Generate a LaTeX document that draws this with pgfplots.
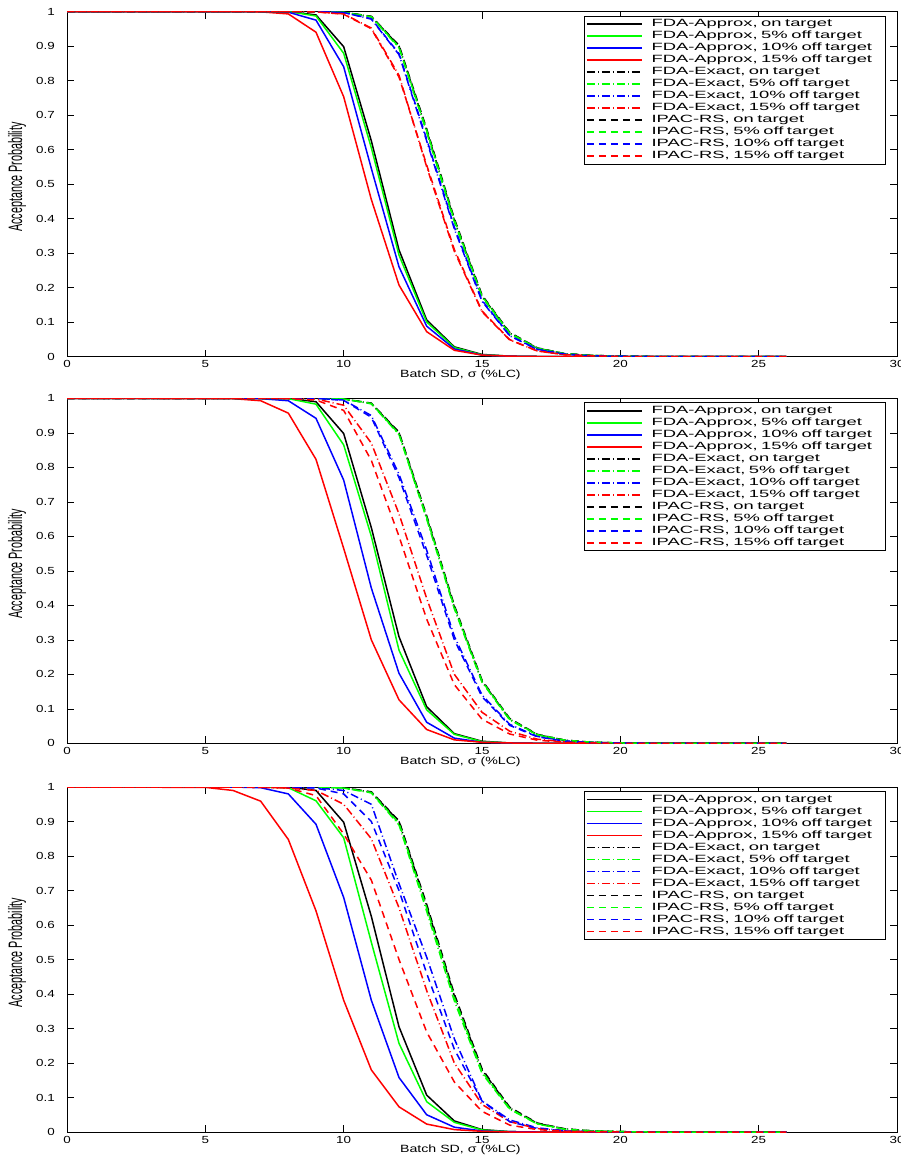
\documentclass[border=0pt]{standalone}
\usepackage{pgfplots}
\usepackage{pgfplotstable}
\pgfplotsset{compat=1.18}
\usepackage{fontspec}
\setmainfont{Liberation Sans}
\newfontfamily\legfont{Liberation Sans}[FakeStretch=1.75]
\newfontfamily\tickfont{Liberation Sans}[FakeStretch=1.3]
\newfontfamily\labfont{Liberation Sans}[FakeStretch=1.35]
\newfontfamily\ylabfont{Liberation Sans}[FakeStretch=0.556]
\definecolor{mgreen}{rgb}{0,1,0}
\definecolor{mblue}{rgb}{0,0,1}
\definecolor{mred}{rgb}{1,0,0}
\newcommand{\tl}[1]{\mbox{\tickfont\fontsize{10.3}{11}\selectfont #1}}

\pgfplotstableread{
x a0 a5 a10 a15 e0 e5 e10 e15 i0 i5 i10 i15
0 1 1 1 1 1 1 1 1 1 1 1 1
6 1 1 1 1 1 1 1 1 1 1 1 1
7 1 1 1 0.999 1 1 1 1 1 1 1 1
8 1 1 0.998 0.993 1 1 1 1 1 1 1 1
9 0.99 0.987 0.975 0.94 1 1 1 0.999 1 1 1 0.999
10 0.898 0.879 0.84 0.753 0.998 0.998 0.997 0.993 0.998 0.998 0.997 0.992
11 0.625 0.605 0.545 0.455 0.985 0.984 0.978 0.952 0.986 0.985 0.979 0.95
12 0.309 0.294 0.26 0.207 0.9 0.895 0.875 0.815 0.902 0.897 0.878 0.81
13 0.106 0.1 0.088 0.072 0.655 0.65 0.625 0.55 0.66 0.655 0.63 0.555
14 0.028 0.026 0.022 0.018 0.395 0.39 0.37 0.305 0.4 0.395 0.375 0.31
15 0.006 0.005 0.004 0.004 0.175 0.172 0.16 0.13 0.178 0.175 0.163 0.132
16 0.001 0.001 0.001 0.001 0.068 0.066 0.06 0.048 0.07 0.068 0.061 0.049
17 0 0 0 0 0.024 0.023 0.02 0.016 0.025 0.024 0.021 0.016
18 0 0 0 0 0.008 0.008 0.007 0.005 0.008 0.008 0.007 0.005
19 0 0 0 0 0.003 0.003 0.002 0.002 0.003 0.003 0.002 0.002
20 0 0 0 0 0.001 0.001 0.001 0 0.001 0.001 0.001 0
21 0 0 0 0 0 0 0 0 0 0 0 0
26 0 0 0 0 0 0 0 0 0 0 0 0
}\dataA

\pgfplotstableread{
x a0 a5 a10 a15 e0 e5 e10 e15 i0 i5 i10 i15
0 1 1 1 1 1 1 1 1 1 1 1 1
6 1 1 1 0.999 1 1 1 1 1 1 1 1
7 1 1 0.999 0.993 1 1 1 1 1 1 1 1
8 1 0.999 0.993 0.957 1 1 1 1 1 1 1 0.999
9 0.99 0.983 0.942 0.823 1 1 1 0.998 1 1 1 0.995
10 0.898 0.865 0.763 0.565 0.998 0.998 0.995 0.98 0.998 0.998 0.994 0.965
11 0.625 0.6 0.45 0.3 0.985 0.984 0.95 0.87 0.986 0.985 0.945 0.82
12 0.309 0.27 0.203 0.126 0.9 0.895 0.78 0.665 0.902 0.897 0.77 0.6
13 0.106 0.097 0.061 0.04 0.655 0.65 0.56 0.42 0.66 0.655 0.545 0.36
14 0.028 0.026 0.015 0.01 0.395 0.39 0.31 0.2 0.4 0.395 0.3 0.17
15 0.006 0.005 0.003 0.003 0.18 0.177 0.14 0.09 0.183 0.18 0.135 0.07
16 0.001 0.001 0.001 0.001 0.07 0.068 0.055 0.035 0.072 0.07 0.052 0.027
17 0 0 0 0 0.025 0.024 0.02 0.012 0.026 0.025 0.019 0.009
18 0 0 0 0 0.009 0.008 0.007 0.004 0.009 0.009 0.006 0.003
19 0 0 0 0 0.003 0.003 0.002 0.001 0.003 0.003 0.002 0.001
20 0 0 0 0 0.001 0.001 0.001 0 0.001 0.001 0.001 0
21 0 0 0 0 0 0 0 0 0 0 0 0
26 0 0 0 0 0 0 0 0 0 0 0 0
}\dataB

\pgfplotstableread{
x a0 a5 a10 a15 e0 e5 e10 e15 i0 i5 i10 i15
0 1 1 1 1 1 1 1 1 1 1 1 1
5 1 1 1 0.999 1 1 1 1 1 1 1 1
6 1 1 1 0.99 1 1 1 1 1 1 1 1
7 1 1 0.998 0.959 1 1 1 0.999 1 1 1 0.999
8 1 0.998 0.98 0.848 1 1 0.999 0.997 1 1 1 0.997
9 0.99 0.96 0.892 0.641 1 1 0.998 0.99 1 1 0.997 0.975
10 0.898 0.853 0.68 0.382 0.998 0.997 0.99 0.95 0.998 0.997 0.98 0.864
11 0.625 0.55 0.382 0.18 0.985 0.983 0.95 0.85 0.986 0.984 0.9 0.73
12 0.305 0.257 0.158 0.073 0.9 0.89 0.72 0.65 0.902 0.895 0.7 0.5
13 0.107 0.088 0.05 0.023 0.655 0.64 0.507 0.41 0.66 0.65 0.46 0.29
14 0.032 0.028 0.014 0.007 0.395 0.38 0.27 0.2 0.4 0.39 0.24 0.145
15 0.007 0.006 0.003 0.002 0.18 0.17 0.09 0.08 0.183 0.175 0.09 0.06
16 0.001 0.001 0.001 0 0.07 0.066 0.035 0.03 0.072 0.068 0.03 0.02
17 0 0 0 0 0.025 0.023 0.012 0.01 0.026 0.024 0.01 0.007
18 0 0 0 0 0.009 0.008 0.004 0.003 0.009 0.008 0.003 0.002
19 0 0 0 0 0.003 0.003 0.001 0.001 0.003 0.003 0.001 0.001
20 0 0 0 0 0.001 0.001 0 0 0.001 0.001 0 0
21 0 0 0 0 0 0 0 0 0 0 0 0
26 0 0 0 0 0 0 0 0 0 0 0 0
}\dataC

\pgfplotsset{
  legend image code/.code={\draw[#1] (9pt,0pt) -- (64pt,0pt);},
  sl/.style={solid, line width=1.5pt},
  dd/.style={line width=1.5pt, dash pattern=on 8pt off 3pt on 1pt off 3pt},
  ds/.style={line width=1.5pt, dash pattern=on 7pt off 5pt},
  panel/.style={
    scale only axis, width=830pt, height=345pt,
    xmin=0, xmax=30, ymin=0, ymax=1,
    /pgf/number format/assume math mode=true,
    xtick={0,5,10,15,20,25,30}, xticklabels={\tl{0},\tl{5},\tl{10},\tl{15},\tl{20},\tl{25},\tl{30}},
    ytick={0,0.1,0.2,0.3,0.4,0.5,0.6,0.7,0.8,0.9,1},
    yticklabels={\tl{0},\tl{0.1},\tl{0.2},\tl{0.3},\tl{0.4},\tl{0.5},\tl{0.6},\tl{0.7},\tl{0.8},\tl{0.9},\tl{1}},
    tick label style={inner sep=0pt},
    xticklabel shift=4pt, yticklabel shift=12pt,
    major tick length=7pt, tick style={black, line width=0.6pt},
    axis line style={black, line width=1pt},
    xlabel={Batch SD, σ (\%LC)},
    xlabel style={font=\labfont\fontsize{10.5}{12}\selectfont, at={(axis description cs:0.474,0)}, anchor=north, yshift=-13pt, inner sep=0pt},
    ylabel={Acceptance Probability},
    ylabel style={font=\ylabfont\fontsize{19.4}{20}\selectfont, at={(axis description cs:-0.0602,0.52)}, anchor=center, inner sep=0pt},
    legend cell align=left,
    legend style={at={(rel axis cs:0.9867,0.988)}, anchor=north east, draw=black, line width=0.8pt, fill=white, inner sep=2pt,
      font=\legfont\fontsize{10.5}{12}\selectfont, row sep=0pt,
      nodes={inner sep=0pt, text height=8.5pt, text depth=3.5pt, text width=232pt},
      /tikz/every odd column/.append style={column sep=9pt}},
  }
}

\newcommand{\allplots}[1]{%
  \addplot[black, sl] table[x=x,y=a0]{#1};
  \addplot[mgreen, sl] table[x=x,y=a5]{#1};
  \addplot[mblue, sl] table[x=x,y=a10]{#1};
  \addplot[mred, sl] table[x=x,y=a15]{#1};
  \addplot[black, dd] table[x=x,y=e0]{#1};
  \addplot[mgreen, dd] table[x=x,y=e5]{#1};
  \addplot[mblue, dd] table[x=x,y=e10]{#1};
  \addplot[mred, dd] table[x=x,y=e15]{#1};
  \addplot[black, ds] table[x=x,y=i0]{#1};
  \addplot[mgreen, ds] table[x=x,y=i5]{#1};
  \addplot[mblue, ds] table[x=x,y=i10]{#1};
  \addplot[mred, ds] table[x=x,y=i15]{#1};
  \legend{FDA-Approx\rlap{, on target},FDA-Approx\rlap{, 5\% off target},FDA-Approx\rlap{, 10\% off target},FDA-Approx\rlap{, 15\% off target},
    FDA-Exact\rlap{, on target},FDA-Exact\rlap{, 5\% off target},FDA-Exact\rlap{, 10\% off target},FDA-Exact\rlap{, 15\% off target},
    IPAC-RS\rlap{, on target},IPAC-RS\rlap{, 5\% off target},IPAC-RS\rlap{, 10\% off target},IPAC-RS\rlap{, 15\% off target}}
}

\begin{document}
\begin{tikzpicture}
\path[use as bounding box] (0pt,0pt) rectangle (901pt,-1160pt);
\begin{axis}[panel, at={(67pt,-356.5pt)}, anchor=south west]
\allplots{\dataA}
\end{axis}
\begin{axis}[panel, at={(67pt,-743.3pt)}, anchor=south west]
\allplots{\dataB}
\end{axis}
\begin{axis}[panel, at={(67pt,-1132pt)}, anchor=south west]
\allplots{\dataC}
\end{axis}
\end{tikzpicture}
\end{document}
